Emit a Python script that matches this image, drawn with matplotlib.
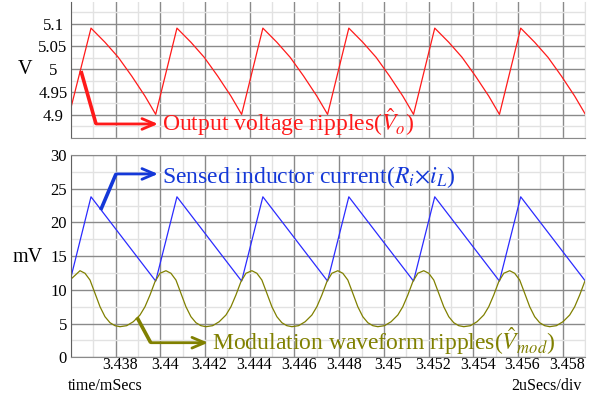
import matplotlib.pyplot as plt
from matplotlib.ticker import MultipleLocator, FixedLocator
from matplotlib.transforms import ScaledTranslation
import numpy as np

plt.rcParams['font.family'] = ['Liberation Serif', 'DejaVu Serif']
plt.rcParams['mathtext.fontset'] = 'stix'

T0 = 3.436  # ms, left edge of the sweep

# output voltage ripple (V), time in us after T0
vout_t_us = [0.0,
             0.895, 1.521, 2.116, 2.716, 3.311, 3.790,
             4.741, 5.367, 5.962, 6.562, 7.157, 7.635,
             8.586, 9.213, 9.808, 10.407, 11.002, 11.481,
             12.432, 13.058, 13.653, 14.253, 14.848, 15.327,
             16.277, 16.904, 17.499, 18.098, 18.694, 19.172,
             20.123, 20.749, 21.345, 21.944, 22.539, 23.018]
vout_v = [4.916,
          5.090, 5.059, 5.026, 4.985, 4.941, 4.901,
          5.090, 5.059, 5.026, 4.985, 4.941, 4.901,
          5.090, 5.059, 5.026, 4.985, 4.941, 4.901,
          5.090, 5.059, 5.026, 4.985, 4.941, 4.901,
          5.090, 5.059, 5.026, 4.985, 4.941, 4.901,
          5.090, 5.059, 5.026, 4.985, 4.941, 4.901]

# sensed inductor current Ri*iL (mV)
isense_t_us = [0.0, 0.895, 3.790, 4.741, 7.635, 8.586, 11.481,
               12.432, 15.327, 16.277, 19.172, 20.123, 23.018]
isense_mv = [11.9, 23.8, 11.3, 23.8, 11.3, 23.8, 11.3,
             23.8, 11.3, 23.8, 11.3, 23.8, 11.3]

# modulation waveform ripple (mV)
vmod_t_us = [0.0,
             0.403, 0.626, 0.850, 1.074, 1.298, 1.521, 1.745, 1.969,
             2.192, 2.492, 2.788, 3.087, 3.311, 3.535, 3.758, 3.982,
             4.248, 4.472, 4.696, 4.919, 5.143, 5.367, 5.591, 5.814,
             6.038, 6.338, 6.633, 6.933, 7.157, 7.380, 7.604, 7.828,
             8.094, 8.318, 8.541, 8.765, 8.989, 9.213, 9.436, 9.660,
             9.884, 10.183, 10.479, 10.779, 11.002, 11.226, 11.450, 11.673,
             11.940, 12.163, 12.387, 12.611, 12.834, 13.058, 13.282, 13.506,
             13.729, 14.029, 14.324, 14.624, 14.848, 15.072, 15.295, 15.519,
             15.785, 16.009, 16.233, 16.456, 16.680, 16.904, 17.127, 17.351,
             17.575, 17.875, 18.170, 18.470, 18.693, 18.917, 19.141, 19.365,
             19.631, 19.854, 20.078, 20.302, 20.526, 20.749, 20.973, 21.197,
             21.420, 21.720, 22.016, 22.315, 22.539, 22.763, 22.986, 23.210]
vmod_mv = [11.6,
           12.84, 12.46, 11.46, 9.49, 7.50, 6.02, 5.13, 4.69,
           4.54, 4.69, 5.28, 6.27, 7.50, 9.24, 11.21, 12.46,
           12.84, 12.46, 11.46, 9.49, 7.50, 6.02, 5.13, 4.69,
           4.54, 4.69, 5.28, 6.27, 7.50, 9.24, 11.21, 12.46,
           12.84, 12.46, 11.46, 9.49, 7.50, 6.02, 5.13, 4.69,
           4.54, 4.69, 5.28, 6.27, 7.50, 9.24, 11.21, 12.46,
           12.84, 12.46, 11.46, 9.49, 7.50, 6.02, 5.13, 4.69,
           4.54, 4.69, 5.28, 6.27, 7.50, 9.24, 11.21, 12.46,
           12.84, 12.46, 11.46, 9.49, 7.50, 6.02, 5.13, 4.69,
           4.54, 4.69, 5.28, 6.27, 7.50, 9.24, 11.21, 12.46,
           12.84, 12.46, 11.46, 9.49, 7.50, 6.02, 5.13, 4.69,
           4.54, 4.69, 5.28, 6.27, 7.50, 9.24, 11.21, 12.46]

x_ticks = [3.438, 3.44, 3.442, 3.444, 3.446, 3.448, 3.45, 3.452, 3.454, 3.456, 3.458]
v_ticks = [4.9, 4.95, 5.0, 5.05, 5.1]
mv_ticks = [0, 5, 10, 15, 20, 25, 30]

RED = "#ff1a1a"
BLUE = "#2b2bff"
BLUE_TXT = "#1438d8"
OLIVE = "#808000"
MAJ = "#8a8a8a"
MIN = "#e2e2e2"


def to_ms(us):
    return T0 + np.array(us) / 1000.0


fig = plt.figure(figsize=(6.1, 3.96), dpi=100)
ax_top = fig.add_axes([0.1164, 0.6524, 0.8426, 0.3434])
ax_bot = fig.add_axes([0.1164, 0.0977, 0.8426, 0.5109])

for ax in (ax_top, ax_bot):
    ax.set_xlim(T0, 3.459)
    ax.xaxis.set_major_locator(FixedLocator(x_ticks))
    ax.xaxis.set_minor_locator(MultipleLocator(0.001))
    ax.grid(which="major", color=MAJ, lw=1.0, zorder=0)
    ax.grid(which="minor", color=MIN, lw=1.0, zorder=0)
    ax.set_axisbelow(True)
    ax.tick_params(which="both", length=0, labelsize=12)
    ax.spines["left"].set_color("#606060")
    ax.spines["right"].set_color(MIN)
    ax.spines["bottom"].set_color(MAJ)
    ax.spines["top"].set_color(MAJ)

# top panel: output voltage
ax_top.plot(to_ms(vout_t_us), vout_v, color=RED, lw=0.9)
ax_top.set_ylim(4.85, 5.148)
ax_top.yaxis.set_major_locator(FixedLocator(v_ticks))
ax_top.yaxis.set_minor_locator(MultipleLocator(0.025))
ax_top.set_yticklabels(["4.9", "4.95", "5", "5.05", "5.1"])
ax_top.tick_params(axis="y", pad=13)
for lab in ax_top.get_yticklabels():
    lab.set_ha("center")
ax_top.tick_params(axis="x", labelbottom=False)
ax_top.spines["top"].set_visible(False)

# bottom panel: current sense and modulation waveform
ax_bot.plot(to_ms(isense_t_us), isense_mv, color=BLUE, lw=0.9)
ax_bot.plot(to_ms(vmod_t_us), vmod_mv, color=OLIVE, lw=0.9)
ax_bot.set_ylim(0, 30)
ax_bot.yaxis.set_major_locator(FixedLocator(mv_ticks))
ax_bot.yaxis.set_minor_locator(MultipleLocator(2.5))
ax_bot.tick_params(axis="y", pad=3)
ax_bot.tick_params(axis="x", pad=0, labelsize=11.5)
ax_bot.set_xticklabels(["%g" % t for t in x_ticks])
shift = ScaledTranslation(4.5 / 100, 0, fig.dpi_scale_trans)
for lab in ax_bot.get_xticklabels():
    lab.set_transform(lab.get_transform() + shift)


def callout(ax, pts, text, text_y, line_color, text_color):
    (x0, y0), (x1, y1), (x2, y2) = pts
    ax.plot(to_ms([x0, x1]), [y0, y1], color=line_color, lw=2.6,
            solid_capstyle="butt", clip_on=False, zorder=5)
    ax.annotate("", xy=(to_ms(x2), y2), xytext=(to_ms(x1), y1),
                arrowprops=dict(arrowstyle="->,head_length=0.75,head_width=0.32",
                                color=line_color, lw=2.0, shrinkA=0, shrinkB=0,
                                mutation_scale=12),
                annotation_clip=False, zorder=5)
    ax.text(to_ms(x2 + 0.18), text_y, text, color=text_color, fontsize=17,
            va="baseline", ha="left", zorder=6)


callout(ax_top, [(0.447, 4.996), (1.119, 4.880), (3.893, 4.880)],
        r"Output voltage ripples($\hat{V}_o$)", 4.8638, RED, RED)
callout(ax_bot, [(1.329, 21.85), (2.013, 27.19), (3.893, 27.19)],
        r"Sensed inductor current($R_i$$\times$$i_L$)", 25.89, BLUE_TXT, BLUE_TXT)
callout(ax_bot, [(2.953, 5.93), (3.566, 2.165), (6.130, 2.165)],
        r"Modulation waveform ripples($\hat{V}_{mod}$)", 1.08, OLIVE, OLIVE)

fig.text(25 / 610, 1 - 70 / 396, "V", fontsize=14.5, ha="center", va="center")
fig.text(28 / 610, 1 - 258 / 396, "mV", fontsize=14.5, ha="center", va="center")
fig.text(68 / 610, 1 - 390 / 396, "time/mSecs", fontsize=11.5, ha="left", va="baseline")
fig.text(582 / 610, 1 - 390 / 396, "2uSecs/div", fontsize=11.5, ha="right", va="baseline")

fig.savefig("out.png", dpi=100)
